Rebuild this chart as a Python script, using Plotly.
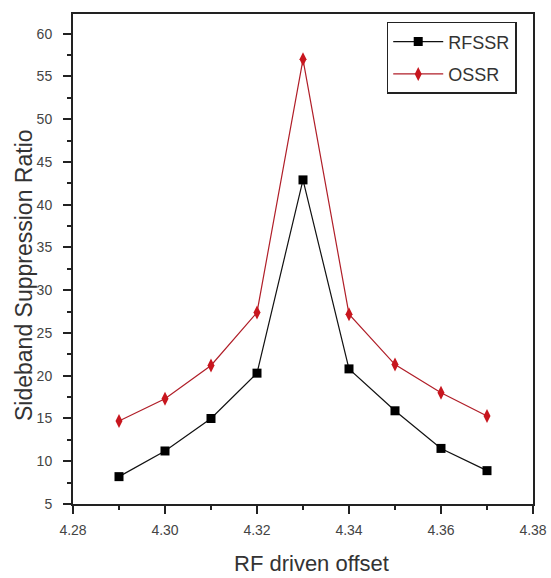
import plotly.graph_objects as go

x_offset = [4.29, 4.30, 4.31, 4.32, 4.33, 4.34, 4.35, 4.36, 4.37]
rfssr = [8.2, 11.2, 15.0, 20.3, 42.9, 20.8, 15.9, 11.5, 8.9]
ossr = [14.7, 17.3, 21.2, 27.4, 57.0, 27.2, 21.3, 18.0, 15.3]

x_ticks = [4.28, 4.30, 4.32, 4.34, 4.36, 4.38]
y_ticks = [5, 10, 15, 20, 25, 30, 35, 40, 45, 50, 55, 60]

FONT = "Liberation Sans, Arial, sans-serif"

fig = go.Figure()
fig.add_trace(go.Scatter(
    x=x_offset, y=rfssr, name="RFSSR", mode="lines+markers", legendgroup="a",
    line=dict(color="#111111", width=1.2),
    marker=dict(symbol="square", size=9, color="#000000"),
))
fig.add_trace(go.Scatter(
    x=x_offset, y=ossr, name="OSSR", mode="lines+markers", legendgroup="b",
    line=dict(color="#b01e28", width=1.2),
    marker=dict(symbol="diamond-tall", size=10, color="#c8161e"),
))

axis_common = dict(
    showgrid=False, zeroline=False, showline=True, linecolor="#222222",
    linewidth=2, mirror=True, ticks="outside", ticklen=8, tickwidth=1.5,
    tickcolor="#222222", tickfont=dict(family=FONT, size=14, color="#444444"),
    automargin=False,
)

fig.update_xaxes(
    range=[4.28, 4.38], tickvals=x_ticks, ticktext=[f"{v:.2f}" for v in x_ticks],
    minor=dict(ticks="outside", ticklen=4, tickwidth=1.5, tickcolor="#222222", dtick=0.01, tick0=4.28),
    ticklabelstandoff=4,
    **axis_common,
)
fig.update_yaxes(
    range=[5, 62.3], tickvals=y_ticks,
    minor=dict(ticks="outside", ticklen=4, tickwidth=1.5, tickcolor="#222222", dtick=2.5, tick0=5),
    ticklabelstandoff=8,
    **axis_common,
)

fig.add_annotation(
    text="Sideband Suppression Ratio", xref="paper", yref="paper",
    x=-0.108, y=0.468, xanchor="center", yanchor="middle", textangle=-90,
    showarrow=False, font=dict(family=FONT, size=23, color="#333333"),
)
fig.add_annotation(
    text="RF driven offset", xref="paper", yref="paper",
    x=0.518, y=-0.122, xanchor="center", yanchor="middle",
    showarrow=False, font=dict(family=FONT, size=22, color="#333333"),
)

fig.update_layout(
    width=551, height=578,
    margin=dict(l=73, r=18, t=14, b=74),
    paper_bgcolor="white", plot_bgcolor="white",
    showlegend=True,
    legend=dict(
        x=0.682, y=0.984, xanchor="left", yanchor="top",
        bgcolor="white", bordercolor="#222222", borderwidth=1.5,
        font=dict(family=FONT, size=18, color="#333333"),
        tracegroupgap=6, itemwidth=50,
    ),
)

fig.write_html("out.html", post_script="document.body.style.margin='0';",
               config={"displayModeBar": False})
